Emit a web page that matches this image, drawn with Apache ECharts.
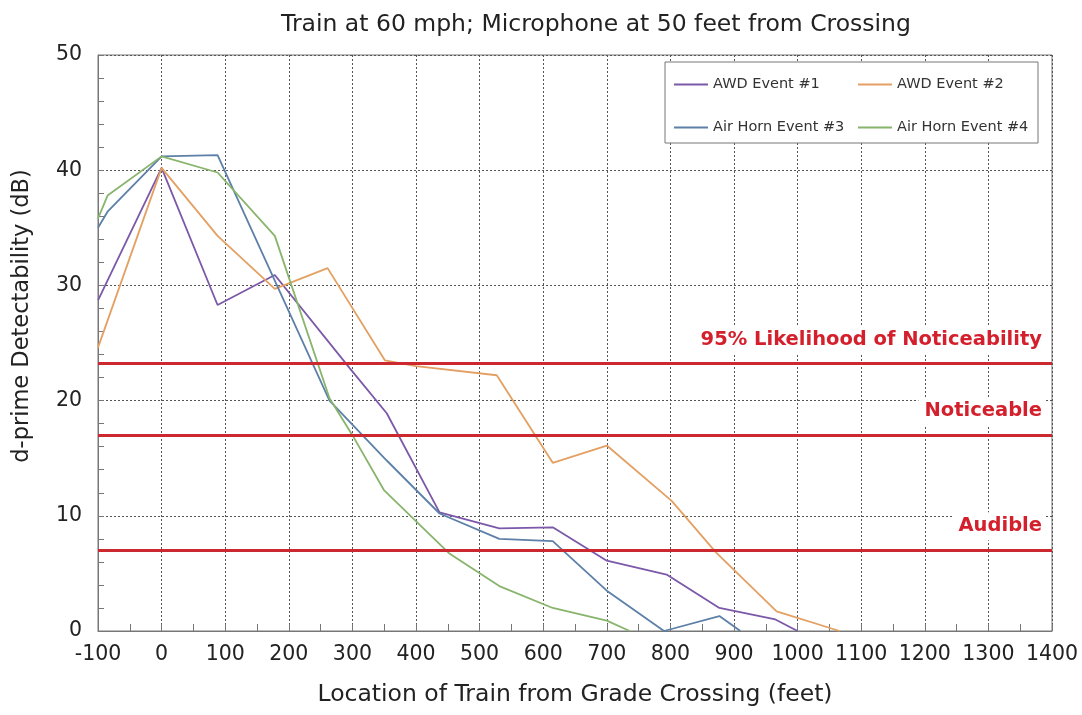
<!DOCTYPE html>
<html>
<head>
<meta charset="utf-8">
<script src="https://cdn.jsdelivr.net/npm/echarts@6/dist/echarts.min.js"></script>
<style>html,body{margin:0;padding:0;background:#fff}#c{width:1082px;height:715px}</style>
</head>
<body>
<div id="c"></div>
<script>
const titleText = 'Train at 60 mph; Microphone at 50 feet from Crossing';
const xName = 'Location of Train from Grade Crossing (feet)';
const yName = 'd-prime Detectability (dB)';
const seriesNames = ['AWD Event #1', 'AWD Event #2', 'Air Horn Event #3', 'Air Horn Event #4'];

const awd1X = [-100, 0, 88, 178, 296, 354, 437, 531, 615, 700, 794, 877, 965, 1000];
const awd1Y = [28.7, 40.2, 28.3, 30.9, 22.8, 18.9, 10.3, 8.9, 9.0, 6.1, 4.9, 2.0, 1.0, 0];

const awd2X = [-100, 0, 88, 178, 261, 351, 400, 527, 615, 700, 802, 872, 967, 1066];
const awd2Y = [24.6, 40.2, 34.3, 29.7, 31.5, 23.5, 23.0, 22.2, 14.6, 16.1, 11.3, 6.8, 1.7, 0];

const horn3X = [-100, -85, 0, 88, 264, 354, 437, 531, 615, 700, 790, 877, 910];
const horn3Y = [35.0, 36.4, 41.2, 41.3, 20.0, 14.8, 10.2, 8.0, 7.8, 3.5, 0, 1.3, 0];

const horn4X = [-100, -85, 0, 88, 178, 264, 300, 350, 453, 531, 615, 700, 736];
const horn4Y = [35.8, 37.8, 41.2, 39.8, 34.3, 20.2, 17.0, 12.2, 6.7, 3.9, 2.0, 0.9, 0];

const thresholds = [23.2, 17, 7];
const thresholdLabels = ['95% Likelihood of Noticeability', 'Noticeable', 'Audible'];

const colors = ['#7b58a8', '#e3a062', '#5d80a8', '#88b46c'];
const xs = [awd1X, awd2X, horn3X, horn4X];
const ys = [awd1Y, awd2Y, horn3Y, horn4Y];

const FONT = 'DejaVu Sans';
const chart = echarts.init(document.getElementById('c'), null, {renderer: 'canvas'});

const series = seriesNames.map((n, i) => ({
  name: n,
  type: 'line',
  symbol: 'none',
  data: xs[i].map((x, k) => [x, ys[i][k]]),
  lineStyle: {color: colors[i], width: 1.8},
  itemStyle: {color: colors[i]},
  z: 3
}));

series.push({
  name: 'thresholds',
  type: 'line',
  data: [],
  markLine: {
    silent: true,
    symbol: 'none',
    lineStyle: {color: '#cc2830', width: 3, type: 'solid'},
    label: {
      show: true,
      position: 'insideEndTop',
      color: '#d3202c',
      fontFamily: FONT,
      fontWeight: 'bold',
      fontSize: 19.5,
      backgroundColor: '#fff',
      padding: [4, 2, 4, 6],
      distance: [8, 10]
    },
    data: thresholds.map((v, i) => ({yAxis: v, label: {formatter: thresholdLabels[i]}}))
  },
  z: 4
});

const legendPos = [[669, 72], [853, 72], [669, 115], [853, 115]];

chart.setOption({
  animation: false,
  backgroundColor: '#fff',
  title: {
    text: titleText,
    left: 276,
    top: 8,
    textStyle: {fontFamily: FONT, fontSize: 23.5, fontWeight: 'normal', color: '#222'}
  },
  legend: seriesNames.map((n, i) => ({
    data: [n],
    left: legendPos[i][0],
    top: legendPos[i][1],
    icon: 'rect',
    itemWidth: 34,
    itemHeight: 2,
    z: 10,
    textStyle: {fontFamily: FONT, fontSize: 14.5, color: '#333'},
    selectedMode: false
  })),
  graphic: [{
    type: 'rect',
    shape: {x: 665, y: 62, width: 373, height: 81},
    style: {fill: '#fff', stroke: '#777', lineWidth: 1},
    z: 5
  }],
  grid: {
    left: 98, right: 30, top: 55, bottom: 84,
    show: true, borderColor: '#777', borderWidth: 1
  },
  xAxis: {
    type: 'value', min: -100, max: 1400, interval: 100,
    name: xName, nameLocation: 'middle', nameGap: 52,
    nameTextStyle: {fontFamily: FONT, fontSize: 23.5, color: '#222'},
    axisLine: {show: true, onZero: false, lineStyle: {color: '#777'}},
    axisTick: {show: true, inside: true, length: 7, lineStyle: {color: '#777'}},
    minorTick: {show: true, splitNumber: 2, length: 7, lineStyle: {color: '#777'}},
    axisLabel: {fontFamily: FONT, fontSize: 20.5, color: '#222', margin: 13, formatter: v => String(v)},
    splitLine: {show: true, lineStyle: {color: '#555', type: [2, 2], width: 1}}
  },
  yAxis: {
    type: 'value', min: 0, max: 50, interval: 10,
    name: yName, nameLocation: 'middle', nameGap: 64,
    nameTextStyle: {fontFamily: FONT, fontSize: 22.5, color: '#222', padding: [0, 0, 0, 54]},
    axisLine: {show: true, onZero: false, lineStyle: {color: '#777'}},
    axisTick: {show: true, inside: true, length: 6, lineStyle: {color: '#777'}},
    minorTick: {show: true, splitNumber: 5, length: 6, lineStyle: {color: '#777'}},
    axisLabel: {fontFamily: FONT, fontSize: 20.5, color: '#222', margin: 16, formatter: v => String(v)},
    splitLine: {show: true, lineStyle: {color: '#555', type: [2, 2], width: 1}}
  },
  series: series
});
</script>
</body>
</html>
